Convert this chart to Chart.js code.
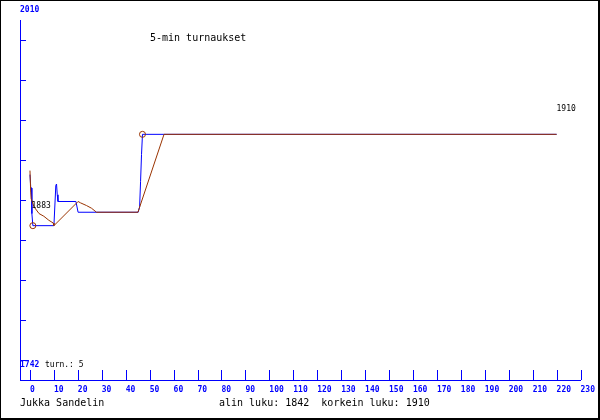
<!DOCTYPE html>
<html>
<head>
<meta charset="utf-8">
<script src="https://cdn.jsdelivr.net/npm/chart.js@4.4.1/dist/chart.umd.min.js"></script>
<style>
  html, body { margin: 0; padding: 0; background: #fff; }
  canvas { display: block; }
</style>
</head>
<body>
<canvas id="chart" width="600" height="420"></canvas>
<script>
const xTicks = [0, 10, 20, 30, 40, 50, 60, 70, 80, 90, 100, 110, 120, 130, 140, 150, 160, 170, 180, 190, 200, 210, 220, 230];
const rangeLabels = [1742, 2010];

// blue: rating after each game
const gameX = [0, 0.3, 0.6, 0.8, 1.2, 10, 10.8, 11.1, 11.4, 11.7, 19.2, 20.1, 45.2, 45.8, 46.2, 46.6, 47, 220];
const gameRating = [1880, 1871, 1870, 1851, 1842, 1842, 1872, 1873, 1865, 1860, 1860, 1852, 1852, 1856, 1875, 1895, 1910, 1910];

// brown: smoothed rating
const avgX = [0, 0.3, 0.5, 1.7, 3.8, 5.8, 7.9, 9.7, 10, 20.1, 21.1, 23.6, 25.7, 27.8, 45.1, 56, 220];
const avgRating = [1883, 1867, 1862, 1856, 1851, 1849, 1846, 1844, 1842, 1860, 1859, 1857, 1855, 1852, 1852, 1910, 1910];

const lowest = 1842;
const highest = 1910;
const tournaments = 5;

const BLUE = "#0000ff";
const BROWN = "#993300";
const MONO = "'DejaVu Sans Mono', monospace";

const span = rangeLabels[1] - rangeLabels[0];
const yMin = rangeLabels[0] - span * 20 / 360;
const yMax = rangeLabels[1] - span * 20 / 360;
const yTicks = [];
for (let k = 0; k < 9; k++) yTicks.push(rangeLabels[0] + k * span / 9);

const minIdx = gameRating.indexOf(Math.min(...gameRating));
const maxIdx = gameRating.indexOf(Math.max(...gameRating));
const markRadius = gameRating.map((v, i) => (i === minIdx || i === maxIdx) ? 3 : 0);

const decor = {
  id: "decor",
  afterDraw(chart) {
    const ctx = chart.ctx;
    const xs = chart.scales.x;
    const ys = chart.scales.y;
    const area = chart.chartArea;
    ctx.save();

    // inward tick marks
    ctx.strokeStyle = BLUE;
    ctx.lineWidth = 1;
    ctx.beginPath();
    ys.ticks.forEach(t => {
      const py = Math.round(ys.getPixelForValue(t.value)) + 0.5;
      ctx.moveTo(area.left, py);
      ctx.lineTo(area.left + 6, py);
    });
    xs.ticks.forEach(t => {
      const px = Math.round(xs.getPixelForValue(t.value)) + 0.5;
      ctx.moveTo(px, area.bottom - 10);
      ctx.lineTo(px, area.bottom);
    });
    ctx.stroke();

    ctx.textBaseline = "alphabetic";
    ctx.textAlign = "left";

    ctx.fillStyle = BLUE;
    ctx.font = "bold 8px " + MONO;
    ctx.fillText(String(rangeLabels[1]), 20, 12);
    ctx.fillText(String(rangeLabels[0]), 20, 367);

    ctx.fillStyle = "#000";
    ctx.font = "8px " + MONO;
    ctx.fillText("turn.: " + tournaments, 45, 367);
    ctx.fillText(String(avgRating[0]), 31.5, 207.5);
    ctx.fillText(String(avgRating[avgRating.length - 1]), 556.5, 110.5);

    ctx.font = "10px " + MONO;
    ctx.fillText("5-min turnaukset", 150, 41);
    ctx.fillText("Jukka Sandelin", 20, 406);
    ctx.fillText("alin luku: " + lowest + "  korkein luku: " + highest, 219, 406);

    // frame
    ctx.fillStyle = "#000";
    ctx.fillRect(0, 0, 600, 1);
    ctx.fillRect(0, 0, 1, 420);
    ctx.fillRect(598, 0, 2, 420);
    ctx.fillRect(0, 418, 600, 2);
    ctx.restore();
  }
};

new Chart(document.getElementById("chart"), {
  type: "line",
  data: {
    datasets: [
      {
        label: "keskiarvo",
        data: avgX.map((x, i) => ({ x, y: avgRating[i] })),
        borderColor: BROWN,
        borderWidth: 1,
        pointRadius: 0,
        tension: 0,
        fill: false
      },
      {
        label: "luku",
        data: gameX.map((x, i) => ({ x, y: gameRating[i] })),
        borderColor: BLUE,
        borderWidth: 1,
        pointRadius: markRadius,
        pointBorderColor: BROWN,
        pointBackgroundColor: "rgba(0,0,0,0)",
        pointBorderWidth: 1,
        tension: 0,
        fill: false
      }
    ]
  },
  options: {
    responsive: false,
    animation: false,
    devicePixelRatio: 1,
    layout: { padding: { top: 20, right: 18, left: 0, bottom: 0 } },
    plugins: {
      legend: { display: false },
      tooltip: { enabled: false },
      title: { display: false }
    },
    scales: {
      x: {
        type: "linear",
        min: -10 / 2.4,
        max: 230,
        afterBuildTicks: s => { s.ticks = xTicks.map(v => ({ value: v })); },
        afterFit: s => { s.height = 40; },
        grid: { display: false, drawTicks: false },
        border: { display: true, color: BLUE, width: 1 },
        ticks: {
          color: BLUE,
          font: { family: MONO, size: 8, weight: "bold" },
          align: "start",
          padding: 5,
          autoSkip: false,
          maxRotation: 0,
          minRotation: 0
        }
      },
      y: {
        type: "linear",
        min: yMin,
        max: yMax,
        afterBuildTicks: s => { s.ticks = yTicks.map(v => ({ value: v })); },
        afterFit: s => { s.width = 20; },
        grid: { display: false, drawTicks: false },
        border: { display: true, color: BLUE, width: 1 },
        ticks: { display: false }
      }
    }
  },
  plugins: [decor]
});
</script>
</body>
</html>
